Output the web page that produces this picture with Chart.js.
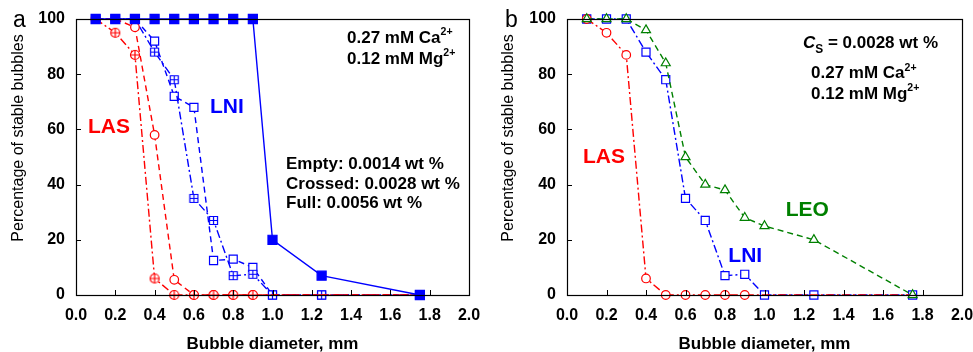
<!DOCTYPE html>
<html>
<head>
<meta charset="utf-8">
<script src="https://cdn.jsdelivr.net/npm/chart.js@4.4.0/dist/chart.umd.min.js"></script>
<style>
  body { margin: 0; background: #fff; width: 973px; height: 352px; position: relative; overflow: hidden; }
  canvas { position: absolute; top: 0; }
  #chartA { left: 0; }
  #chartB { left: 490px; }
</style>
</head>
<body>
<canvas id="chartA" width="486" height="352"></canvas>
<canvas id="chartB" width="483" height="352"></canvas>
<script>
// bubble diameters (mm)
const diameters = [0.1, 0.2, 0.3, 0.4, 0.5, 0.6, 0.7, 0.8, 0.9, 1.0, 1.25, 1.75];

// panel a: three LNI and two LAS concentrations
const lniFull    = [100, 100, 100, 100, 100, 100, 100, 100, 100, 20, 7, 0];
const lniCrossed = [100, 100, 100, 88, 78, 35, 27, 7, 7.5, 0, 0, 0];
const lniEmpty   = [100, 100, 100, 92, 72, 68, 12.5, 13, 10, 0, 0, 0];
const lasCrossed = [100, 95, 87, 6, 0, 0, 0, 0, 0, 0, 0, 0];
const lasEmpty   = [100, 100, 97, 58, 5.5, 0, 0, 0, 0, 0, 0, 0];

// panel b: Cs = 0.0028 wt %
const lasB = [100, 95, 87, 6, 0, 0, 0, 0, 0, 0, 0, 0];
const lniB = [100, 100, 100, 88, 78, 35, 27, 7, 7.5, 0, 0, 0];
const leoB = [100, 100, 100, 96, 84, 50, 40, 38, 28, 25, 20, 0];

const xTickValues = [0, 0.2, 0.4, 0.6, 0.8, 1.0, 1.2, 1.4, 1.6, 1.8, 2.0];
const xTickLabels = ['0.0', '0.2', '0.4', '0.6', '0.8', '1.0', '1.2', '1.4', '1.6', '1.8', '2.0'];
const yTickValues = [0, 20, 40, 60, 80, 100];
const yTickLabels = ['0', '20', '40', '60', '80', '100'];

const RED = '#ff0000', BLUE = '#0000ff', GREEN = '#008000';
const FONT = '"Liberation Sans", Arial, sans-serif';

function pts(ys) {
  return diameters.map((x, i) => ({ x: x, y: ys[i] }));
}

function crossedMarker(shape, color, size) {
  const c = document.createElement('canvas');
  c.width = c.height = size + 3;
  const g = c.getContext('2d');
  const m = (size + 3) / 2, h = size / 2;
  g.strokeStyle = color;
  g.lineWidth = 1.2;
  g.fillStyle = '#fff';
  g.beginPath();
  if (shape === 'circle') g.arc(m, m, h, 0, Math.PI * 2);
  else g.rect(m - h, m - h, size, size);
  g.fill();
  g.stroke();
  g.beginPath();
  g.moveTo(m - h, m); g.lineTo(m + h, m);
  g.moveTo(m, m - h); g.lineTo(m, m + h);
  g.stroke();
  return c;
}

const crossCircle = crossedMarker('circle', RED, 9);
const crossSquare = crossedMarker('square', BLUE, 8);

// hide LAS markers past 0.9 mm (line only runs along the axis there)
const lasRadius = c => (c.raw && c.raw.x > 0.95 ? 0 : 4.3);

function series(data, color, dash, style, radius, fill) {
  return {
    data: data,
    borderColor: color,
    borderWidth: 1.4,
    borderDash: dash,
    pointStyle: style,
    pointRadius: radius,
    pointHoverRadius: radius,
    pointBorderColor: color,
    pointBackgroundColor: fill,
    pointBorderWidth: 1.2,
    tension: 0,
    clip: false
  };
}

function richText(g, x, y, parts, size, color) {
  let cx = x;
  parts.forEach(([t, mode]) => {
    let fs = size, dy = 0, st = 'bold';
    if (mode === 'sup') { fs = size * 0.62; dy = -size * 0.45; }
    if (mode === 'sub') { fs = size * 0.7; dy = size * 0.3; }
    if (mode === 'it') st = 'italic bold';
    g.font = st + ' ' + fs + 'px ' + FONT;
    g.fillStyle = color;
    g.textAlign = 'left';
    g.textBaseline = 'alphabetic';
    g.fillText(t, cx, y + dy);
    cx += g.measureText(t).width;
  });
}

function decor(letter, notes) {
  return {
    id: 'decor',
    afterDraw(chart) {
      const g = chart.ctx;
      const a = chart.chartArea;
      const xs = chart.scales.x, ys = chart.scales.y;
      g.save();
      g.strokeStyle = '#000';
      g.lineWidth = 1.2;
      g.strokeRect(Math.round(a.left) + 0.5, Math.round(a.top) + 0.5,
                   Math.round(a.right - a.left), Math.round(a.bottom - a.top));
      g.lineWidth = 1;
      g.beginPath();
      xs.ticks.forEach(t => {
        const px = Math.round(xs.getPixelForValue(t.value)) + 0.5;
        g.moveTo(px, a.bottom); g.lineTo(px, a.bottom - 5);
      });
      ys.ticks.forEach(t => {
        const py = Math.round(ys.getPixelForValue(t.value)) + 0.5;
        g.moveTo(a.left, py); g.lineTo(a.left + 5, py);
      });
      g.stroke();

      // y title
      g.save();
      g.translate(19, 138);
      g.rotate(-Math.PI / 2);
      g.font = '16px ' + FONT;
      g.fillStyle = '#000';
      g.textAlign = 'center';
      g.textBaseline = 'middle';
      g.fillText('Percentage of stable bubbles', 0, 0);
      g.restore();

      // x title
      g.font = 'bold 17px ' + FONT;
      g.fillStyle = '#000';
      g.textAlign = 'center';
      g.textBaseline = 'alphabetic';
      g.fillText('Bubble diameter, mm', (a.left + a.right) / 2, 349);

      // panel letter
      g.font = '23px ' + FONT;
      g.textAlign = 'left';
      g.fillText(letter, letter === 'a' ? 13 : 15, 27);

      notes.forEach(n => richText(g, n.x, n.y, n.parts, n.size, n.color));
      g.restore();
    }
  };
}

function options() {
  return {
    responsive: false,
    animation: false,
    layout: { padding: { top: 19, right: 0, left: 0, bottom: 0 } },
    plugins: { legend: { display: false }, tooltip: { enabled: false } },
    scales: {
      x: {
        type: 'linear', min: 0, max: 2,
        afterBuildTicks: s => { s.ticks = xTickValues.map(v => ({ value: v })); },
        afterFit: s => { s.height = 57; s.paddingLeft = 0; s.paddingRight = 0; },
        ticks: {
          callback: (v, i) => xTickLabels[i],
          font: { family: FONT, size: 16, weight: 'bold' },
          color: '#000', padding: 11, maxRotation: 0, autoSkip: false
        },
        grid: { display: false, drawTicks: false },
        border: { display: false }
      },
      y: {
        min: 0, max: 100,
        afterBuildTicks: s => { s.ticks = yTickValues.map(v => ({ value: v })); },
        ticks: {
          callback: (v, i) => yTickLabels[i],
          font: { family: FONT, size: 16, weight: 'bold' },
          color: '#000', padding: 11, autoSkip: false
        },
        grid: { display: false, drawTicks: false },
        border: { display: false }
      }
    }
  };
}

const optA = options();
optA.layout.padding.right = 17;
optA.scales.y.afterFit = s => { s.width = 76; s.paddingTop = 0; s.paddingBottom = 0; };

new Chart(document.getElementById('chartA'), {
  type: 'line',
  data: {
    datasets: [
      series(pts(lniFull), BLUE, [], 'rect', 6.4, BLUE),
      series(pts(lasCrossed), RED, [8, 3, 2, 3], crossCircle, lasRadius, '#fff'),
      series(pts(lasEmpty), RED, [6, 4], 'circle', lasRadius, '#fff'),
      series(pts(lniCrossed), BLUE, [8, 3, 2, 3], crossSquare, 5.7, '#fff'),
      series(pts(lniEmpty), BLUE, [6, 4], 'rect', 5.7, '#fff')
    ]
  },
  options: optA,
  plugins: [decor('a', [
    { x: 347, y: 43, size: 17, color: '#000', parts: [['0.27 mM Ca', ''], ['2+', 'sup']] },
    { x: 347, y: 63.5, size: 17, color: '#000', parts: [['0.12 mM Mg', ''], ['2+', 'sup']] },
    { x: 286, y: 169, size: 17, color: '#000', parts: [['Empty: 0.0014 wt %', '']] },
    { x: 286, y: 188.5, size: 17, color: '#000', parts: [['Crossed: 0.0028 wt %', '']] },
    { x: 286, y: 208, size: 17, color: '#000', parts: [['Full: 0.0056 wt %', '']] },
    { x: 88, y: 133, size: 21, color: RED, parts: [['LAS', '']] },
    { x: 210, y: 113, size: 21, color: BLUE, parts: [['LNI', '']] }
  ])]
});

const optB = options();
optB.layout.padding.right = 11;
optB.scales.y.afterFit = s => { s.width = 77; s.paddingTop = 0; s.paddingBottom = 0; };

new Chart(document.getElementById('chartB'), {
  type: 'line',
  data: {
    datasets: [
      series(pts(leoB), GREEN, [6, 4], 'triangle', 5.2, '#fff'),
      series(pts(lasB), RED, [8, 3, 2, 3], 'circle', lasRadius, '#fff'),
      series(pts(lniB), BLUE, [8, 3, 2, 3], 'rect', 5.7, '#fff')
    ]
  },
  options: optB,
  plugins: [decor('b', [
    { x: 313, y: 48.3, size: 17, color: '#000', parts: [['C', 'it'], ['S', 'sub'], [' = 0.0028 wt %', '']] },
    { x: 321, y: 78.3, size: 17, color: '#000', parts: [['0.27 mM Ca', ''], ['2+', 'sup']] },
    { x: 321, y: 99, size: 17, color: '#000', parts: [['0.12 mM Mg', ''], ['2+', 'sup']] },
    { x: 93, y: 163.3, size: 21, color: RED, parts: [['LAS', '']] },
    { x: 238.3, y: 261.7, size: 21, color: BLUE, parts: [['LNI', '']] },
    { x: 295.7, y: 216, size: 21, color: GREEN, parts: [['LEO', '']] }
  ])]
});
</script>
</body>
</html>
